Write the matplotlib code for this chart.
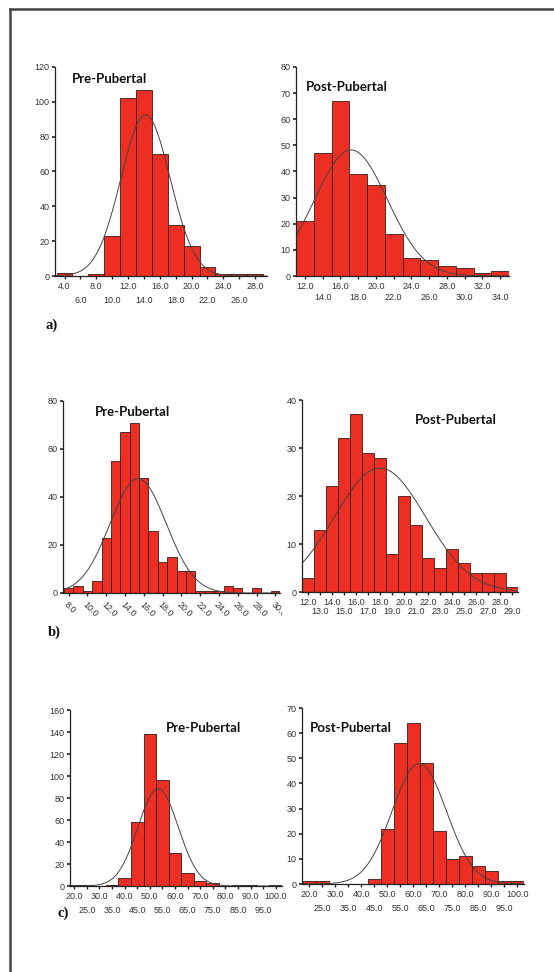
import numpy as np
import matplotlib
matplotlib.use("Agg")
import matplotlib.pyplot as plt
from matplotlib.transforms import Bbox, TransformedBbox

W, H = 554, 972

# ---- data ----
a_pre_bins = [4, 6, 8, 10, 12, 14, 16, 18, 20, 22, 24, 26, 28]
a_pre_counts = [2, 0, 1, 23, 102, 107, 70, 29, 17, 5, 1, 1, 1]
a_pre_fit = (14.2, 3.1)

a_post_bins = [12, 14, 16, 18, 20, 22, 24, 26, 28, 30, 32, 34]
a_post_counts = [21, 47, 67, 39, 35, 16, 7, 6, 4, 3, 1, 2]
a_post_fit = (17.2, 4.1)

b_pre_bins = list(range(8, 31))
b_pre_counts = [2, 3, 1, 5, 23, 55, 67, 71, 48, 26, 13, 15, 9, 9, 1, 1, 1, 3, 2, 0, 2, 0, 1]
b_pre_fit = (15.4, 3.0)

b_post_bins = list(range(12, 30))
b_post_counts = [3, 13, 22, 32, 37, 29, 28, 8, 20, 14, 7, 5, 9, 6, 4, 4, 4, 1]
b_post_fit = (18.0, 3.8)

c_pre_bins = list(range(20, 101, 5))
c_pre_counts = [1, 1, 0, 1, 7, 58, 138, 96, 30, 12, 5, 3, 0, 1, 1, 0, 1]
c_pre_fit = (53.3, 8.0)

c_post_bins = list(range(20, 101, 5))
c_post_counts = [1, 1, 0, 0, 0, 2, 22, 56, 64, 48, 21, 10, 11, 7, 5, 1, 1]
c_post_fit = (62.3, 10.4)

RED = "#ec2f22"
TXT = "#333333"
TICKFONT = "Liberation Sans"


def add_ax(x0, x1, ytop, ybot):
    return fig.add_axes([x0 / W, 1 - ybot / H, (x1 - x0) / W, (ybot - ytop) / H])


def hist_panel(ax, bins, counts, fit, width, xlim, ymax, ystep):
    ax.bar(bins, counts, width=width, color=RED, edgecolor="#3a1a14", linewidth=0.6)
    m, sd = fit
    xs = np.linspace(xlim[0], xlim[1], 300)
    scale = sum(counts) * width / (sd * np.sqrt(2 * np.pi))
    ax.plot(xs, scale * np.exp(-0.5 * ((xs - m) / sd) ** 2), color="#444444", lw=0.7)
    ax.set_xlim(*xlim)
    ax.set_ylim(0, ymax)
    ax.set_yticks(np.arange(0, ymax + 1, ystep))
    for s in ["top", "right"]:
        ax.spines[s].set_visible(False)
    for s in ["left", "bottom"]:
        ax.spines[s].set_color("#222222")
        ax.spines[s].set_linewidth(0.9)
    ax.tick_params(axis="y", length=2, width=1.2, pad=2, labelsize=6.5, colors="#222222",
                   labelcolor=TXT)
    ax.tick_params(axis="x", which="both", length=2, width=1, labelsize=6.5,
                   colors="#222222", labelcolor=TXT)
    for lab in ax.get_yticklabels():
        lab.set_fontfamily(TICKFONT)


def two_row_x(ax, top, bottom, pad2):
    ax.set_xticks(top)
    ax.set_xticklabels(["%.1f" % v for v in top], fontfamily=TICKFONT)
    ax.set_xticks(bottom, minor=True)
    ax.set_xticklabels(["%.1f" % v for v in bottom], minor=True, fontfamily=TICKFONT)
    ax.tick_params(axis="x", which="major", pad=2)
    ax.tick_params(axis="x", which="minor", pad=pad2)


fig = plt.figure(figsize=(W / 100, H / 100), dpi=100)

# frame lines (left and top)
fig.add_artist(plt.Line2D([10 / W, 10 / W], [1 - 9 / H, 0], color="#444444", lw=1.8))
fig.add_artist(plt.Line2D([10 / W, 1], [1 - 9 / H, 1 - 9 / H], color="#444444", lw=1.8))

# a) left
ax = add_ax(55, 267, 67, 276)
hist_panel(ax, a_pre_bins, a_pre_counts, a_pre_fit, 2, (2.8, 29.5), 120, 20)
two_row_x(ax, a_pre_bins[0::2], a_pre_bins[1::2], 12.5)

# a) right
ax = add_ax(296, 509, 67, 276)
hist_panel(ax, a_post_bins, a_post_counts, a_post_fit, 2, (11, 35), 80, 10)
two_row_x(ax, a_post_bins[0::2], a_post_bins[1::2], 10)

# b) left
ax = add_ax(63, 280, 401, 593)
hist_panel(ax, b_pre_bins, b_pre_counts, b_pre_fit, 1, (7.4, 30.5), 80, 20)
ax.set_xticks(b_pre_bins[0::2])
ax.set_xticklabels(["%.1f" % v for v in b_pre_bins[0::2]], rotation=-45, ha="left",
                   va="top", rotation_mode="anchor", fontfamily=TICKFONT)
ax.tick_params(axis="x", pad=3)
clip = TransformedBbox(Bbox([[0, 0], [282 / W, 1]]), fig.transFigure)
for lab in ax.get_xticklabels():
    lab.set_clip_box(clip)
    lab.set_clip_on(True)

# b) right
ax = add_ax(302, 518, 400, 592)
hist_panel(ax, b_post_bins, b_post_counts, b_post_fit, 1, (11.5, 29.5), 40, 10)
two_row_x(ax, b_post_bins[0::2], b_post_bins[1::2], 9)

# c) left
ax = add_ax(70, 282, 710, 886)
hist_panel(ax, c_pre_bins, c_pre_counts, c_pre_fit, 5, (18.3, 102.5), 160, 20)
two_row_x(ax, c_pre_bins[0::2], c_pre_bins[1::2], 12.5)

# c) right
ax = add_ax(302, 524, 708, 884)
hist_panel(ax, c_post_bins, c_post_counts, c_post_fit, 5, (17.3, 102.5), 70, 10)
two_row_x(ax, c_post_bins[0::2], c_post_bins[1::2], 12.5)

# panel titles
titles = [("Pre-Pubertal", 72, 79), ("Post-Pubertal", 306, 87),
          ("Pre-Pubertal", 95, 412), ("Post-Pubertal", 415, 420),
          ("Pre-Pubertal", 166, 728), ("Post-Pubertal", 310, 728)]
for t, x, y in titles:
    fig.text(x / W, 1 - y / H, t, ha="left", va="center", fontsize=9.5,
             fontweight="bold", family="Lato", color="#111111")

# sub-figure letters
for t, x, y in [("a)", 45, 325), ("b)", 48, 632), ("c)", 57, 913)]:
    fig.text(x / W, 1 - y / H, t, ha="left", va="center", fontsize=10.5,
             fontweight="bold", family="Liberation Serif", color="#111111")

fig.savefig("out.png", dpi=100)
